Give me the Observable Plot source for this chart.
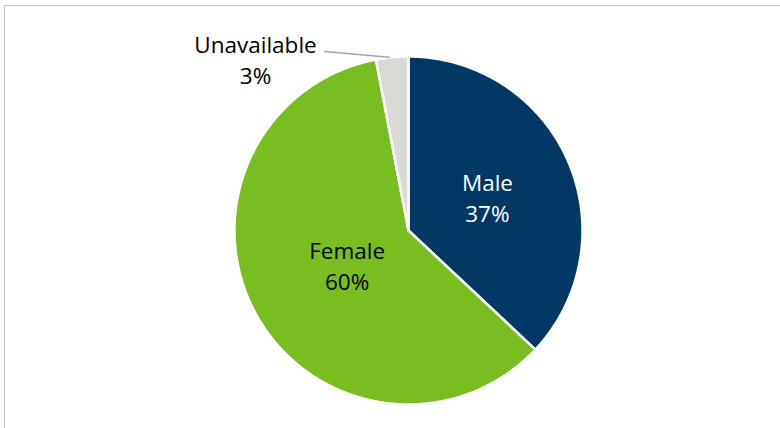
<!DOCTYPE html>
<html>
<head>
<meta charset="utf-8">
<script src="https://cdn.jsdelivr.net/npm/d3@7"></script>
<script src="https://cdn.jsdelivr.net/npm/@observablehq/plot@0.6"></script>
<style>
  html, body { margin: 0; padding: 0; background: #fff; overflow: hidden; }
  #wrap { position: relative; width: 780px; height: 428px; }
  #frame { position: absolute; left: 4px; top: 5px; width: 800px; height: 450px;
           border-left: 1.5px solid #c0c0c0; border-top: 1.5px solid #c0c0c0; box-sizing: border-box; }
  #chart { position: absolute; left: 0; top: 0; }
</style>
</head>
<body>
<div id="wrap"><div id="frame"></div><div id="chart"></div></div>
<script>
// Data
const categories = ["Male", "Female", "Unavailable"];
const shares = [37, 60, 3];
const labels = ["37%", "60%", "3%"];
const colors = ["#003865", "#78be20", "#d9d9d6"];

// Layout
const W = 780, H = 428;
const cx = 408, cy = 230, R = 174;
const labelRadius = {Male: 86, Female: 70};

const pie = d3.pie().sort(null).value(d => d.value);
const arcs = pie(categories.map((c, i) => ({name: c, value: shares[i], label: labels[i]})));

// Convert arcs to polygons
const pts = [];
for (const a of arcs) {
  const n = Math.max(8, Math.ceil((a.endAngle - a.startAngle) / 0.01));
  pts.push({name: a.data.name, x: cx, y: cy});
  for (let k = 0; k <= n; k++) {
    const t = a.startAngle + (a.endAngle - a.startAngle) * k / n;
    pts.push({name: a.data.name, x: cx + R * Math.sin(t), y: cy - R * Math.cos(t)});
  }
}

const inside = arcs.filter(a => a.data.name !== "Unavailable").map(a => {
  const m = (a.startAngle + a.endAngle) / 2, r = labelRadius[a.data.name];
  return {name: a.data.name, text: a.data.name + "\n" + a.data.label,
          x: cx + r * Math.sin(m), y: cy - r * Math.cos(m)};
});

const un = arcs.find(a => a.data.name === "Unavailable");
const um = (un.startAngle + un.endAngle) / 2;
const edge = {x: cx + (R - 1) * Math.sin(um), y: cy - (R - 1) * Math.cos(um)};
const outside = [{text: un.data.name + "\n" + un.data.label, x: 255, y: 58}];
const leader = [{x: 324, y: 51}, {x: edge.x - 3, y: edge.y - 1}];

const plot = Plot.plot({
  width: W, height: H,
  margin: 0,
  x: {domain: [0, W], range: [0, W], axis: null},
  y: {domain: [0, H], range: [0, H], axis: null},
  color: {domain: categories, range: colors},
  style: {fontFamily: "'Open Sans', sans-serif", background: "transparent"},
  marks: [
    Plot.line(pts, {x: "x", y: "y", z: "name", fill: "name", stroke: "white", strokeWidth: 2.5, curve: "linear-closed"}),
    Plot.line(leader, {x: "x", y: "y", stroke: "#a6a6a6", strokeWidth: 1.5}),
    Plot.text(inside, {x: "x", y: "y", text: "text", fill: d => d.name === "Male" ? "white" : "#000", fontSize: 22.5, lineHeight: 1.38}),
    Plot.text(outside, {x: "x", y: "y", text: "text", fill: "#000", fontSize: 22.5, lineHeight: 1.38})
  ]
});
document.getElementById("chart").appendChild(plot);
</script>
</body>
</html>
